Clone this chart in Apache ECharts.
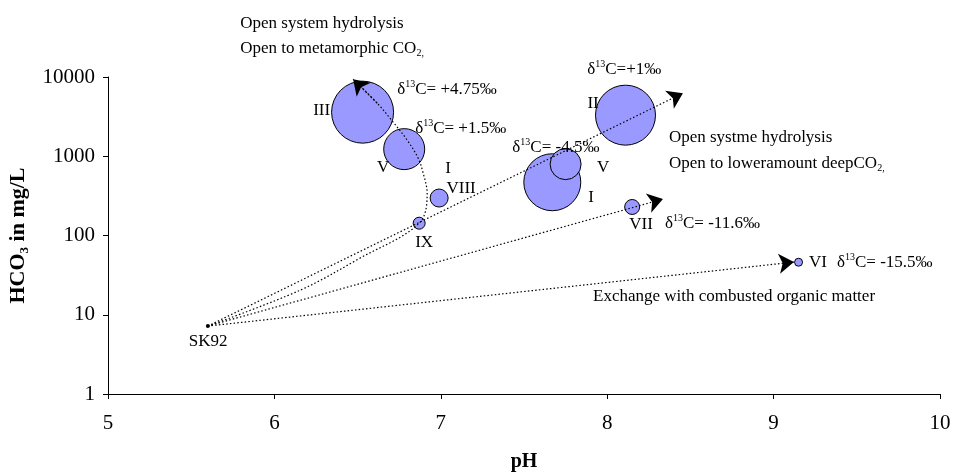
<!DOCTYPE html>
<html><head><meta charset="utf-8">
<script src="https://cdn.jsdelivr.net/npm/echarts@6/dist/echarts.min.js"></script>
<style>html,body{margin:0;padding:0;background:#fff}#c{width:954px;height:473px}</style>
</head><body><div id="c"></div>
<script>
// ---- data ----
const xTicks = [5, 6, 7, 8, 9, 10];
const yTicks = [1, 10, 100, 1000, 10000];
// bubble samples
const sampleNames = ['III', 'V', 'VIII', 'IX', 'I', 'V', 'II', 'VII', 'VI'];
const samplePH    = [6.53, 6.78, 6.99, 6.87, 7.67, 7.75, 8.11, 8.15, 9.15];
const sampleHCO3  = [3600, 1230, 297, 143, 470, 795, 3300, 229, 46];
const sampleRel   = [62, 41, 18, 12, 57, 31, 60, 15, 8];   // relative bubble size
// starting water SK92
const originName = 'SK92';
const originPH = 5.60;
const originHCO3 = 7.2;
// straight evolution paths from SK92 (end = arrow tip)
const pathEndPH   = [8.455, 8.335, 9.122];
const pathEndHCO3 = [6250, 288, 46.2];
// curved path SK92 -> IX -> V -> III (arrow at end)
const curvePH   = [5.60, 6.157, 6.515, 6.87, 6.918, 6.894, 6.864, 6.798, 6.714, 6.618, 6.473];
const curveHCO3 = [7.2, 20.5, 51.9, 143, 343, 612, 946, 1596, 2692, 4670, 9380];
// text annotations (data coordinates)
const noteText = [
  'Open system hydrolysis',
  'Open to metamorphic CO{sub|2,}',
  'δ{sup|13}C= +4.75‰',
  'δ{sup|13}C= +1.5‰',
  'δ{sup|13}C=+1‰',
  'δ{sup|13}C= -4.5‰',
  'δ{sup|13}C= -11.6‰',
  'Open systme hydrolysis',
  'Open to loweramount deepCO{sub|2,}',
  'δ{sup|13}C= -15.5‰',
  'Exchange with combusted organic matter'
];
const notePH   = [5.795, 5.795, 6.738, 6.846, 7.88, 7.43, 8.347, 8.371, 8.371, 9.381, 7.915];
const noteHCO3 = [47700, 23070, 7020, 2262, 12540, 1303, 143, 1742, 818, 46.2, 17.2];
// sample labels
const tagText = ['III', 'V', 'I', 'VIII', 'IX', 'II', 'V', 'I', 'VII', 'VI', 'SK92'];
const tagPH   = [6.284, 6.653, 7.044, 7.122, 6.90, 7.915, 7.975, 7.903, 8.204, 9.266, 5.602];
const tagHCO3 = [3813, 729, 708, 396, 82.6, 4675, 729, 305, 139, 46.2, 4.53];

// ---- styles ----
const FONT = 'Liberation Serif';
const rich = {
  n:   { fontFamily: FONT, fontSize: 17, color: '#000', lineHeight: 20 },
  sup: { fontFamily: FONT, fontSize: 10, color: '#000', lineHeight: 12, verticalAlign: 'top' },
  sub: { fontFamily: FONT, fontSize: 10, color: '#000', lineHeight: 12, verticalAlign: 'bottom' }
};
function wrapRich(t) {
  return t.split(/(\{(?:sup|sub)\|[^}]*\})/).filter(s => s.length).map(s => s.startsWith('{') ? s : '{n|' + s + '}').join('');
}
const dotted = { color: '#000', width: 1.2, type: [1.5, 2.2], opacity: 1 };

const bubbles = samplePH.map((x, i) => ({ value: [x, sampleHCO3[i], sampleRel[i]], name: sampleNames[i] }));
const straightLines = pathEndPH.map((x, i) => ({ coords: [[originPH, originHCO3], [x, pathEndHCO3[i]]] }));
const nC = curvePH.length;
straightLines.push({ coords: [[curvePH[nC - 2], curveHCO3[nC - 2]], [curvePH[nC - 1], curveHCO3[nC - 1]]] });
const curveData = curvePH.map((x, i) => [x, curveHCO3[i]]);
const notes = notePH.map((x, i) => ({ value: [x, noteHCO3[i]], label: { formatter: wrapRich(noteText[i]) } }));
const tags = tagPH.map((x, i) => ({ value: [x, tagHCO3[i]], label: { formatter: '{n|' + tagText[i] + '}' } }));

const chart = echarts.init(document.getElementById('c'), null, { renderer: 'canvas' });
chart.setOption({
  animation: false,
  backgroundColor: '#fff',
  grid: { left: 108, right: 14, top: 77, bottom: 79, containLabel: false, outerBoundsMode: 'none' },
  xAxis: {
    type: 'value', min: xTicks[0], max: xTicks[xTicks.length - 1], interval: 1,
    name: 'pH', nameLocation: 'middle', nameGap: 58,
    nameTextStyle: { fontFamily: FONT, fontWeight: 'bold', fontSize: 20, color: '#000' },
    axisLine: { lineStyle: { color: '#000', width: 1 } },
    axisTick: { length: 5, lineStyle: { color: '#000' } },
    axisLabel: { fontFamily: FONT, fontSize: 21, color: '#000', margin: 19 },
    splitLine: { show: false }
  },
  yAxis: {
    type: 'log', logBase: 10, min: yTicks[0], max: yTicks[yTicks.length - 1],
    name: '{b|HCO}{s|3}{b| in mg/L}', nameLocation: 'middle', nameGap: 72, nameRotate: 90,
    nameTextStyle: {
      rich: {
        b: { fontFamily: FONT, fontWeight: 'bold', fontSize: 22, color: '#000', lineHeight: 26 },
        s: { fontFamily: FONT, fontWeight: 'bold', fontSize: 13, color: '#000', lineHeight: 14, verticalAlign: 'bottom' }
      }
    },
    axisLine: { show: true, lineStyle: { color: '#000', width: 1 } },
    axisTick: { show: true, length: 5, lineStyle: { color: '#000' } },
    axisLabel: { fontFamily: FONT, fontSize: 21, color: '#000', margin: 13, formatter: v => String(Math.round(v)) },
    minorTick: { show: false },
    splitLine: { show: false }
  },
  series: [
    {
      type: 'line', data: curveData, smooth: 0.35, symbol: 'none', clip: false,
      lineStyle: dotted, z: 3
    },
    {
      type: 'lines', coordinateSystem: 'cartesian2d', data: straightLines,
      symbol: ['none', 'arrow'], symbolSize: 15, lineStyle: dotted, z: 4,
      itemStyle: { color: '#000', opacity: 1 }
    },
    {
      type: 'scatter', data: bubbles, clip: false, z: 2,
      symbolSize: v => v[2],
      itemStyle: { color: '#9999ff', borderColor: '#000', borderWidth: 1, opacity: 1 }
    },
    {
      type: 'scatter', data: [[originPH, originHCO3]], symbolSize: 4, clip: false, z: 5,
      itemStyle: { color: '#000', opacity: 1 }
    },
    {
      type: 'scatter', data: notes, symbolSize: 0, clip: false, silent: true, z: 6,
      itemStyle: { opacity: 1 },
      label: { show: true, position: 'inside', align: 'left', verticalAlign: 'middle', color: '#000', opacity: 1, rich: rich }
    },
    {
      type: 'scatter', data: tags, symbolSize: 0, clip: false, silent: true, z: 6,
      itemStyle: { opacity: 1 },
      label: { show: true, position: 'inside', align: 'center', verticalAlign: 'middle', color: '#000', opacity: 1, rich: rich }
    }
  ]
});
</script>
</body></html>
